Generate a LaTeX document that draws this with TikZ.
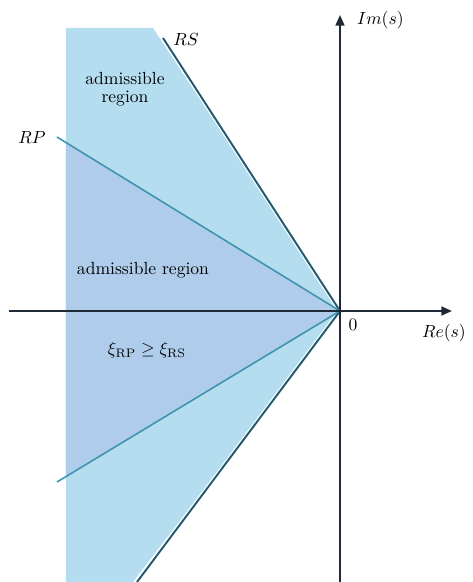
\documentclass[tikz,border=0pt]{standalone}
\usepackage{amsmath,amssymb}
\usepackage{tikz,xcolor}
\usetikzlibrary{arrows.meta}

\definecolor{lightreg}{HTML}{B4DEF0}
\definecolor{darkreg}{HTML}{AFCDEA}
\definecolor{rsline}{HTML}{1F5A70}
\definecolor{rpline}{HTML}{3F93AD}
\definecolor{axisline}{HTML}{1E2A36}

\begin{document}
\begin{tikzpicture}
  \useasboundingbox (-6.8,-5.42) rectangle (2.64,6.22);
  % styles of the drawing
  \tikzset{axis/.style={draw=axisline, line width=1.1pt, -{Triangle[length=6pt,width=5pt]}}}
  \tikzset{rsstyle/.style={draw=rsline, line width=1.1pt, preaction={draw=white, line width=2.4pt}}}
  \tikzset{rpstyle/.style={draw=rpline, line width=0.9pt}}
  % the points
  \coordinate (O) at (0,0);
  \coordinate (RSa) at (-3.54,5.46);
  \coordinate (RSb) at (-4.06,-5.42);
  \coordinate (RPa) at (-5.66,3.48);
  \coordinate (RPb) at (-5.66,-3.42);
  \coordinate (Xl) at (-6.62,0);
  \coordinate (Xr) at (2.24,0);
  \coordinate (Yb) at (0,-5.42);
  \coordinate (Yt) at (0,5.92);
  % the two regions
  \fill[lightreg] (-5.48,5.66) -- (-3.74,5.66) -- (O) -- (-4.14,-5.42) -- (-5.48,-5.42) -- cycle;
  \fill[darkreg] (-5.48,3.37) -- (O) -- (-5.48,-3.31) -- cycle;
  % the lines RS and RP
  \draw[rsstyle] (RSa) -- (O) -- (RSb);
  \draw[rpstyle] (RPa) -- (O) -- (RPb);
  % axes
  \draw[axis] (Xl) -- (Xr);
  \draw[axis] (Yb) -- (Yt);
  % labels
  \node (im) at (0.22,5.82) [anchor=west] {$Im(s)$};
  \node (re) at (2.64,-0.44) [anchor=east] {$Re(s)$};
  \node (zero) at (0.26,-0.28) {$0$};
  \node (rs) at (-3.08,5.42) {$RS$};
  \node (rp) at (-6.16,3.46) {$RP$};
  \node (adm1) at (-4.3,4.44) [align=center] {admissible\\[-2pt]region};
  \node (adm2) at (-3.94,0.82) {admissible region};
  \node (xi) at (-3.86,-0.78) {$\xi_{\mathrm{RP}} \geq \xi_{\mathrm{RS}}$};
\end{tikzpicture}
\end{document}
